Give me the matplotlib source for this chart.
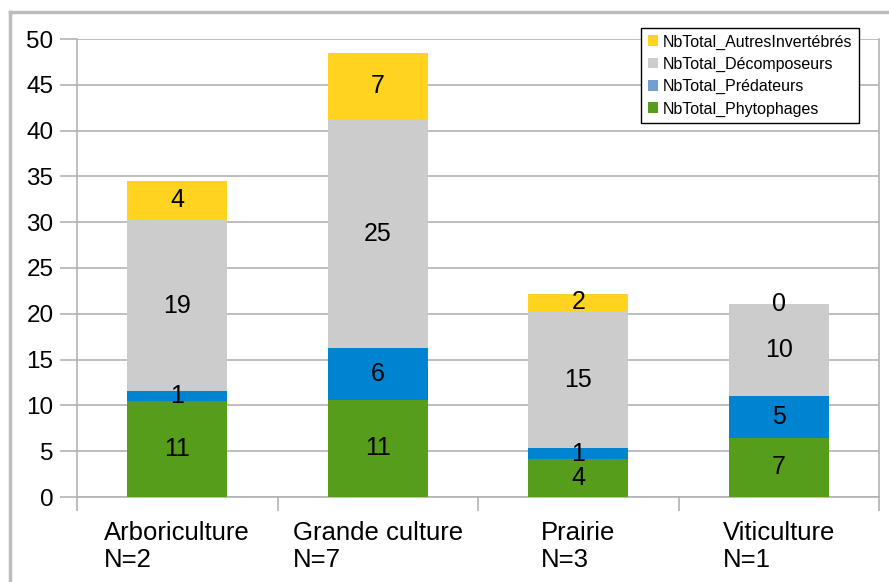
import numpy as np
import matplotlib
matplotlib.use('Agg')
import matplotlib.pyplot as plt
from matplotlib.patches import Patch
from matplotlib.lines import Line2D

plt.rcParams['font.family'] = ['Liberation Sans', 'DejaVu Sans']

# =============================================================================
# Data
# =============================================================================

categories = ['Arboriculture\nN=2', 'Grande culture\nN=7', 'Prairie\nN=3', 'Viticulture\nN=1']

phytophages = [10.5, 10.6, 4.1, 6.45]
predateurs = [1.05, 5.7, 1.2, 4.55]
decomposeurs = [18.7, 24.9, 15.05, 10.05]
autres = [4.3, 7.3, 1.85, 0.0]

# Labels as printed on the bars
lab_phytophages = ['11', '11', '4', '7']
lab_predateurs = ['1', '6', '1', '5']
lab_decomposeurs = ['19', '25', '15', '10']
lab_autres = ['4', '7', '2', '0']

series_names = ['NbTotal_Phytophages', 'NbTotal_Prédateurs',
                'NbTotal_Décomposeurs', 'NbTotal_AutresInvertébrés']

# =============================================================================
# Plot
# =============================================================================

colors = ['#579d1c', '#0084d1', '#cccccc', '#ffd320']
legend_colors = ['#579d1c', '#729fcf', '#cccccc', '#ffd320']
gridcol = '#b3b3b3'

fig = plt.figure(figsize=(8.89, 5.82), dpi=100)
ax = fig.add_axes([77 / 889, 1 - 497 / 582, 802 / 889, 458 / 582])

x = np.arange(len(categories))
bottom = np.zeros(len(categories))
all_vals = [phytophages, predateurs, decomposeurs, autres]
all_labs = [lab_phytophages, lab_predateurs, lab_decomposeurs, lab_autres]

for vals, labs, col in zip(all_vals, all_labs, colors):
    vals = np.array(vals)
    ax.bar(x, vals, width=0.5, bottom=bottom, color=col, linewidth=0, zorder=3)
    for xi, b, v, t in zip(x, bottom, vals, labs):
        ax.text(xi, b + v / 2, t, ha='center', va='center', fontsize=18, color='black', zorder=4)
    bottom = bottom + vals

ax.set_xlim(-0.5, 3.5)
ax.set_ylim(0, 50)
ax.set_yticks(np.arange(0, 51, 5))
ax.yaxis.grid(True, color=gridcol, linewidth=1.2, zorder=0)
ax.set_axisbelow(True)

ax.set_xticks(x)
ax.set_xticklabels(categories, fontsize=18.5, ha='center', multialignment='left', linespacing=1.2)
ax.set_xticks(np.arange(-0.5, 4, 1), minor=True)
ax.tick_params(axis='x', which='major', length=0, pad=17)
ax.tick_params(axis='x', which='minor', length=10, width=1.2, color=gridcol)
ax.tick_params(axis='y', length=12, width=1.2, color=gridcol, pad=5, labelsize=17.5)

for side in ['left', 'bottom', 'right']:
    ax.spines[side].set_color(gridcol)
    ax.spines[side].set_linewidth(1.2)
ax.spines['top'].set_visible(False)

handles = [Patch(facecolor=c, edgecolor='none') for c in legend_colors]
leg = ax.legend(handles[::-1], series_names[::-1], loc='upper right',
                bbox_to_anchor=(0.975, 1.024), borderaxespad=0, fontsize=11.5,
                handlelength=0.65, handleheight=0.65, handletextpad=0.3,
                labelspacing=0.45, borderpad=0.4, fancybox=False, framealpha=1)
leg.get_frame().set_edgecolor('black')
leg.get_frame().set_linewidth(1)
leg.set_zorder(5)

# outer frame (partly cropped)
fig.add_artist(Line2D([10 / 889, 10 / 889], [0, 1 - 12 / 582], color='#bdbdbd', linewidth=2.5))
fig.add_artist(Line2D([10 / 889, 1], [1 - 12 / 582, 1 - 12 / 582], color='#bdbdbd', linewidth=2.5))

plt.savefig('out.png', dpi=100)
